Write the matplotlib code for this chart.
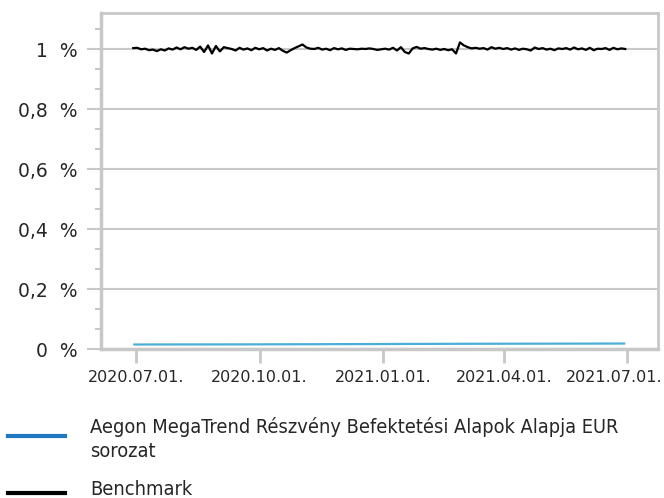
import matplotlib
matplotlib.use("Agg")
import matplotlib.pyplot as plt
import matplotlib.dates as mdates
from matplotlib.ticker import MultipleLocator, FixedLocator
from matplotlib.transforms import ScaledTranslation
import numpy as np
import pandas as pd

# ---- data ----
benchmark = [
    1.003, 1.004, 0.999, 1.001, 0.996, 0.998, 0.993, 0.999,
    0.995, 1.002, 0.998, 1.005, 0.999, 1.006, 1.001, 1.004, 0.997,
    1.008, 0.990, 1.012, 0.985, 1.010, 0.992, 1.006,
    1.003, 1.000, 0.995, 1.004, 0.998,
    1.002, 0.996, 1.004, 0.999, 1.003, 0.995, 1.001, 0.997, 1.003, 0.994,
    0.988, 0.996, 1.003, 1.009,
    1.015, 1.005, 1.001,
    1.000, 1.004, 0.998, 1.001, 0.996, 1.003, 0.999, 1.002, 0.997, 1.001, 1.000, 0.999, 1.001, 1.000, 1.002,
    1.000, 0.997, 0.999, 1.001, 0.998,
    1.004, 0.995, 1.006, 0.990, 0.985, 1.002, 1.007, 1.001,
    1.003, 1.000, 0.998, 1.001, 0.997, 1.000, 0.996, 0.999, 0.985,
    1.022, 1.012, 1.006, 1.002,
    1.004, 1.001, 1.003, 0.998, 1.006, 1.001, 1.004, 1.000,
    1.003, 0.998, 1.002, 0.997, 1.001, 0.999, 0.995, 1.005, 1.000, 1.003, 0.998, 1.001, 0.996, 1.002, 1.000,
    1.003, 0.998, 1.005, 0.999, 1.002, 0.997, 1.004, 0.996, 1.001, 1.000, 1.003, 0.997, 1.004, 0.999, 1.002, 1.000,
]
fund = [0.0150, 0.0152, 0.0153, 0.0155, 0.0158, 0.0162, 0.0166,
        0.0170, 0.0174, 0.0176, 0.0178, 0.0180, 0.0182]
start_date, end_date = "2020-06-29", "2021-06-30"
x_ticks = ["2020-07-01", "2020-10-01", "2021-01-01", "2021-04-01", "2021-07-01"]
y_ticks = [0, 0.2, 0.4, 0.6, 0.8, 1.0]
series_names = ["Aegon MegaTrend Részvény Befektetési Alapok Alapja EUR\nsorozat", "Benchmark"]

bench_dates = pd.date_range(start_date, end_date, periods=len(benchmark))
fund_dates = pd.date_range(start_date, end_date, periods=len(fund))

GRAY = "#c8c8c8"
TXT = "#262626"

fig = plt.figure(figsize=(6.64, 4.98), dpi=100)
ax = fig.add_axes([101/664, 1-349/498, (657.5-101)/664, (349-13)/498])

ax.plot(fund_dates, fund, color="#4aaed6", lw=1.6, solid_capstyle="butt")
ax.plot(bench_dates, benchmark, color="black", lw=1.6)

ax.set_ylim(0, 1.12)
ax.set_xlim(pd.Timestamp("2020-06-05"), pd.Timestamp("2021-07-24"))

ax.yaxis.set_major_locator(FixedLocator(y_ticks))
ax.yaxis.set_minor_locator(MultipleLocator(0.2/3))
ax.set_yticklabels([(f"{v:g}".replace(".", ",")) + "  %" for v in y_ticks])
ax.xaxis.set_major_locator(FixedLocator([mdates.date2num(pd.Timestamp(d)) for d in x_ticks]))
ax.set_xticklabels([pd.Timestamp(d).strftime("%Y.%m.%d.") for d in x_ticks])

ax.grid(axis="y", which="major", color=GRAY, lw=1.5)
ax.set_axisbelow(True)
for s in ax.spines.values():
    s.set_color(GRAY)
    s.set_linewidth(2)
ax.spines["left"].set_linewidth(2.5)
ax.spines["bottom"].set_linewidth(2.5)

ax.tick_params(axis="y", which="major", length=10, width=1.5, color=GRAY,
               labelsize=13.5, labelcolor=TXT, pad=7)
ax.tick_params(axis="y", which="minor", length=4, width=1.5, color=GRAY)
ax.tick_params(axis="x", which="major", length=10, width=2, color=GRAY,
               labelsize=11.5, labelcolor=TXT, pad=5)
ax.tick_params(axis="x", which="minor", length=0)

# keep the last date label inside the picture, as in the reference
last = ax.get_xticklabels()[-1]
last.set_horizontalalignment("right")
last.set_transform(last.get_transform() + ScaledTranslation(36/100, 0, fig.dpi_scale_trans))

# legend drawn below
fig.add_artist(plt.Line2D([8/664, 65/664], [1-436/498, 1-436/498], color="#1f78c1", lw=3,
                          transform=fig.transFigure))
fig.add_artist(plt.Line2D([8/664, 65/664], [1-493/498, 1-493/498], color="black", lw=3,
                          transform=fig.transFigure))
lfont = dict(family="DejaVu Sans", fontstretch="condensed", fontsize=14.3, color=TXT)
fig.text(90/664, 1-427/498, series_names[0].split("\n")[0], va="center", ha="left", **lfont)
fig.text(90/664, 1-451/498, series_names[0].split("\n")[1], va="center", ha="left", **lfont)
fig.text(90/664, 1-489/498, series_names[1], va="center", ha="left", **lfont)

fig.savefig("out.png", dpi=100)
